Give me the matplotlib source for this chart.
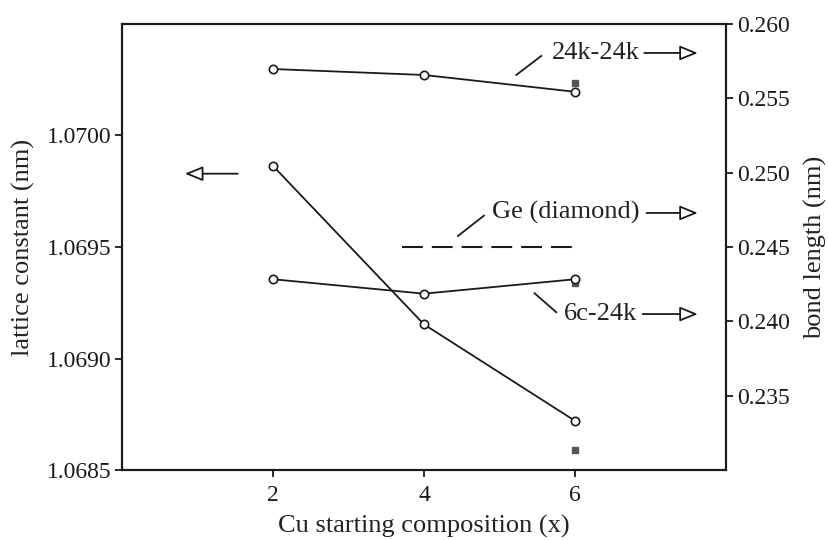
import matplotlib
matplotlib.use("Agg")
import matplotlib.pyplot as plt

plt.rcParams['font.family'] = ['Liberation Serif', 'DejaVu Serif']
plt.rcParams['mathtext.fontset'] = 'stix'

# ---- data ----
x_comp = [2, 4, 6]
lattice_const = [1.069863, 1.069153, 1.068721]      # left axis (nm)
lattice_exp_x = [6]
lattice_exp = [1.068589]

bond_24k24k = [0.25697, 0.25657, 0.25544]            # right axis (nm)
bond_24k24k_exp = [0.25601]
bond_6c24k = [0.24283, 0.24186, 0.24283]
bond_6c24k_exp = [0.24256]
ge_x = [3.71, 6.0]
ge_bond = [0.245, 0.245]

x_ticks = [2, 4, 6]
left_ticks = [1.0685, 1.0690, 1.0695, 1.0700]
right_ticks = [0.235, 0.240, 0.245, 0.250, 0.255, 0.260]

fig = plt.figure(figsize=(8.29, 5.40), dpi=100)
ax = fig.add_axes([0.1475, 0.1296, 0.8754 - 0.1475, 0.9556 - 0.1296])
ax2 = ax.twinx()

lc = '#1a1a1a'
mk = dict(marker='o', markersize=6, markerfacecolor='white',
          markeredgecolor=lc, markeredgewidth=1.2)
sq = dict(marker='s', markersize=5, color='#555555', linestyle='none')

ax.plot(x_comp, lattice_const, color=lc, lw=1.3, **mk, zorder=3)
ax.plot(lattice_exp_x, lattice_exp, **sq)

ax2.plot(x_comp, bond_24k24k, color=lc, lw=1.3, **mk, zorder=3)
ax2.plot(lattice_exp_x, bond_24k24k_exp, **sq, zorder=2)
ax2.plot(x_comp, bond_6c24k, color=lc, lw=1.3, **mk, zorder=3)
ax2.plot(lattice_exp_x, bond_6c24k_exp, **sq, zorder=2)
ax2.plot(ge_x, ge_bond, color=lc, lw=1.5, dashes=(10, 4.3))

ax.set_xlim(0, 8)
ax.set_ylim(1.0685, 1.0705)
ax2.set_ylim(0.230, 0.260)
ax.set_xticks(x_ticks)
ax.set_yticks(left_ticks)
ax.set_yticklabels([f"{v:.4f}" for v in left_ticks])
ax2.set_yticks(right_ticks)
ax2.set_yticklabels([f"{v:.3f}" for v in right_ticks])

for a in (ax, ax2):
    for s in a.spines.values():
        s.set_linewidth(1.5)
        s.set_color(lc)
    a.tick_params(direction='out', length=5, width=1.3, labelsize=17, colors=lc, pad=3)
ax.tick_params(axis='x', pad=6)
ax.tick_params(top=False)

ax.set_xlabel('Cu starting composition (x)', fontsize=19, labelpad=6, color='#222222')
ax.set_ylabel('lattice constant (nm)', fontsize=19, labelpad=8, color='#222222')
ax2.set_ylabel('bond length (nm)', fontsize=19, labelpad=10, color='#222222')

arrow = dict(arrowstyle='-|>,head_length=1.1,head_width=0.45', mutation_scale=10,
             fc='white', ec=lc, lw=1.3, shrinkA=0, shrinkB=0)

def label(text, tx, ty, lead, ax_from, ax_to):
    ax2.text(tx, ty, text, fontsize=19, va='center', ha='left', color='#222222')
    ax2.plot(lead[0], lead[1], color=lc, lw=1.3)
    ax2.annotate('', xy=(ax_to, ty), xytext=(ax_from, ty), arrowprops=arrow)

label('24k-24k', 5.69, 0.25805, ([5.224, 5.555], [0.25657, 0.25785]), 6.92, 7.63)
label('Ge (diamond)', 4.90, 0.24729, ([4.45, 4.795], [0.24574, 0.24711]), 6.95, 7.63)
label('6c-24k', 5.85, 0.24049, ([5.466, 5.754], [0.24189, 0.24061]), 6.90, 7.63)

# left-pointing arrow for lattice constant
ax2.annotate('', xy=(0.83, 0.24993), xytext=(1.53, 0.24993), arrowprops=arrow)

fig.savefig('out.png', dpi=100)
